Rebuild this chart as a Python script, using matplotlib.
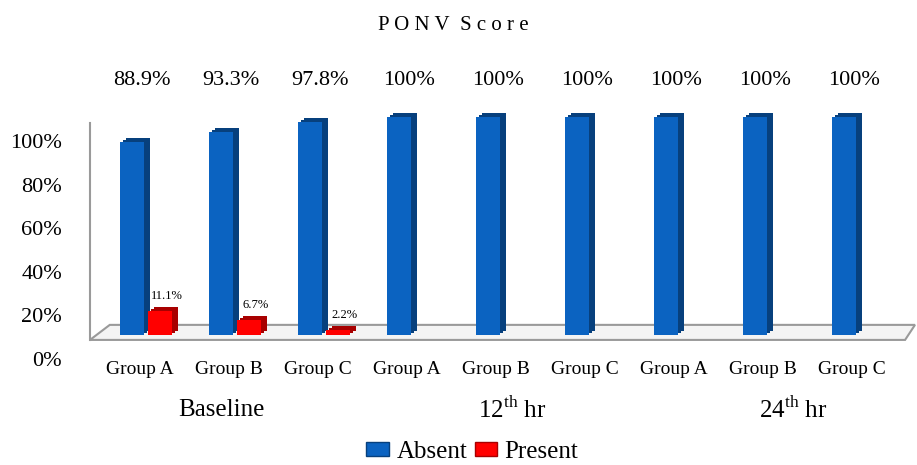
import matplotlib
matplotlib.use("Agg")
import matplotlib.pyplot as plt
from matplotlib.patches import Patch, Polygon
from matplotlib.lines import Line2D
from matplotlib.transforms import offset_copy, ScaledTranslation

plt.rcParams['font.family'] = ['Liberation Serif', 'DejaVu Serif']
plt.rcParams['mathtext.fontset'] = 'custom'
plt.rcParams['mathtext.rm'] = 'Liberation Serif'

# data
groups = ['Group A', 'Group B', 'Group C'] * 3
periods = ['Baseline', '12$^{\\mathrm{th}}$ hr', '24$^{\\mathrm{th}}$ hr']
absent = [88.9, 93.3, 97.8, 100, 100, 100, 100, 100, 100]
present = [11.1, 6.7, 2.2, 0, 0, 0, 0, 0, 0]
absent_labels = ['88.9%', '93.3%', '97.8%', '100%', '100%', '100%', '100%', '100%', '100%']
present_labels = ['11.1%', '6.7%', '2.2%', '', '', '', '', '', '']

blue = '#0b63c1'
blue_side = '#07407d'
red = '#ff0000'
red_side = '#a80000'

fig = plt.figure(figsize=(9.17, 4.65), dpi=100)
ax = fig.add_axes([0.0981, 0.2796, 0.8997, 0.5054])
ax.set_xlim(-0.63, 8.64)
ax.set_ylim(0, 1.08)

x = list(range(len(groups)))
w = 0.27
xb = [i - 0.16 for i in x]
xr = [i + 0.16 for i in x]
ya = [v / 100 for v in absent]
yp = [v / 100 for v in present]

# floor and back wall (pseudo 3D)
floor = Polygon([(0, -0.021), (0.988, -0.021), (1.0, 0.043), (0.024, 0.043)],
                closed=True, transform=ax.transAxes, facecolor='#f4f4f4',
                edgecolor='#9a9a9a', lw=1.5, clip_on=False, zorder=1)
ax.add_patch(floor)
ax.add_line(Line2D([0, 0], [-0.021, 0.902], transform=ax.transAxes,
                   color='#9a9a9a', lw=1.5, clip_on=False, zorder=1))

# depth face behind each bar
depth = offset_copy(ax.transData, fig=fig, x=6, y=4, units='dots')
half = offset_copy(ax.transData, fig=fig, x=3, y=2, units='dots')
ax.bar(xb, ya, width=w, color=blue_side, transform=depth, zorder=2)
ax.bar(xr, yp, width=w, color=red_side, transform=depth, zorder=2)
ax.bar(xb, ya, width=w, color=blue_side, transform=half, zorder=2)
ax.bar(xr, yp, width=w, color=red_side, transform=half, zorder=2)
ax.bar(xb, ya, width=w, color=blue, zorder=3)
ax.bar(xr, yp, width=w, color=red, zorder=3)

for i in x:
    ax.text(i - 0.05, 1.17, absent_labels[i], ha='center', va='center',
            fontsize=16, clip_on=False)
    if present_labels[i]:
        ax.text(xr[i] + 0.07, yp[i] + 0.07, present_labels[i], ha='center',
                va='center', fontsize=9)
    ax.text(i - 0.07, -0.16, groups[i], ha='center', va='center', fontsize=14)

for pos, lab in zip([0.85, 4.11, 7.27], periods):
    ax.text(pos, -0.345, lab, ha='center', va='center', fontsize=18)

ax.set_xticks([])
ax.set_yticks([0, 0.2, 0.4, 0.6, 0.8, 1.0])
ax.set_yticklabels(['0%', '20%', '40%', '60%', '80%', '100%'], fontsize=16)
ax.tick_params(axis='y', length=0, pad=20)
shift = ScaledTranslation(0, -17 / 72, fig.dpi_scale_trans)
for lab in ax.get_yticklabels():
    lab.set_transform(lab.get_transform() + shift)
for s in ax.spines.values():
    s.set_visible(False)

fig.text(0.494, 0.946, 'P O N V\u2002S c o r e', ha='center',
         va='center', fontsize=15)

handles = [Patch(facecolor=blue, edgecolor=blue_side), Patch(facecolor=red, edgecolor=red_side)]
fig.legend(handles, ['Absent', 'Present'], loc='center', bbox_to_anchor=(0.515, 0.028),
           ncol=2, frameon=False, fontsize=18, handlelength=0.9, handleheight=0.45,
           handletextpad=0.3, columnspacing=0.3)

fig.savefig('out.png', dpi=100)
